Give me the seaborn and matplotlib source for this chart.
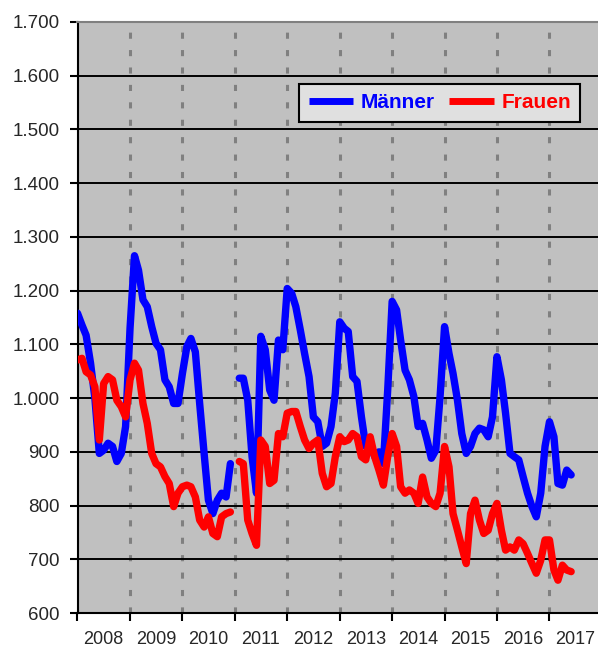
import numpy as np
import pandas as pd
import matplotlib
matplotlib.use("Agg")
import matplotlib.pyplot as plt
import matplotlib.dates as mdates
from matplotlib.ticker import FuncFormatter, MultipleLocator
from matplotlib.lines import Line2D
import seaborn as sns

# ============================
# Daten (monatlich, Jan 2008 - Jun 2017), Lücke im Jan 2011
# ============================
monate = pd.date_range("2008-01-01", periods=114, freq="MS")

maenner = [
    1158, 1136, 1117, 1065, 1000, 897, 903, 916, 910, 882, 897, 947,      # 2008
    1130, 1265, 1238, 1183, 1170, 1133, 1102, 1090, 1034, 1021, 990, 990, # 2009
    1046, 1096, 1111, 1086, 990, 897, 810, 785, 810, 823, 816, 878,       # 2010
    np.nan, 1037, 1037, 996, 891, 823, 1115, 1090, 1015, 996, 1108, 1090, # 2011
    1204, 1195, 1170, 1127, 1083, 1040, 965, 956, 910, 916, 947, 1009,    # 2012
    1142, 1130, 1124, 1040, 1031, 965, 910, 916, 891, 900, 878, 1015,     # 2013
    1180, 1164, 1108, 1052, 1034, 1003, 947, 953, 922, 888, 903, 1003,    # 2014
    1133, 1083, 1046, 996, 934, 897, 910, 934, 944, 941, 928, 965,        # 2015
    1077, 1034, 972, 897, 891, 885, 854, 823, 798, 779, 823, 910,         # 2016
    956, 928, 841, 838, 866, 857,                                         # 2017
]

frauen = [
    1071, 1074, 1049, 1043, 1021, 922, 1027, 1040, 1034, 996, 984, 965,   # 2008
    1034, 1065, 1052, 990, 953, 897, 878, 872, 854, 841, 798, 823,        # 2009
    835, 838, 835, 816, 773, 760, 779, 748, 742, 779, 785, 788,           # 2010
    np.nan, 882, 878, 773, 748, 726, 922, 910, 841, 847, 934, 928,        # 2011
    972, 975, 975, 947, 922, 906, 916, 922, 860, 835, 841, 891,           # 2012
    928, 919, 922, 934, 928, 891, 885, 928, 891, 866, 838, 891,           # 2013
    934, 910, 835, 823, 829, 823, 804, 853, 816, 804, 798, 823,           # 2014
    910, 872, 785, 754, 723, 692, 785, 810, 773, 748, 754, 785,           # 2015
    804, 754, 717, 723, 717, 736, 729, 711, 692, 674, 698, 736,           # 2016
    736, 680, 661, 689, 680, 677,                                         # 2017
]

farben = {"Männer": "#0000FF", "Frauen": "#FF0000"}

# long-form Tabelle, Abschnitt trennt die Linie an der Datenlücke
teile = []
for name, werte in [("Männer", maenner), ("Frauen", frauen)]:
    werte = np.array(werte, dtype=float)
    teile.append(pd.DataFrame({
        "Datum": monate,
        "Anzahl": werte,
        "Geschlecht": name,
        "Abschnitt": np.cumsum(np.isnan(werte)),
    }))
df = pd.concat(teile, ignore_index=True).dropna()

# ============================
# Stil
# ============================
sns.set_style("white", rc={
    "axes.facecolor": "#C0C0C0",
    "lines.solid_capstyle": "round",
    "lines.solid_joinstyle": "round",
})
plt.rcParams["font.family"] = ["Liberation Sans", "DejaVu Sans"]

fig = plt.figure(figsize=(5.98, 6.53), dpi=100)
ax = fig.add_axes([77.5 / 598, 40 / 653, (598 - 77.5) / 598, 591 / 653])

sns.lineplot(data=df, x="Datum", y="Anzahl", hue="Geschlecht",
             units="Abschnitt", estimator=None, palette=farben,
             hue_order=["Männer", "Frauen"], linewidth=5.3, legend=False,
             ax=ax, zorder=3)

# Achsen
ax.set_ylim(600, 1700)
ax.set_xlim(pd.Timestamp("2008-01-01"), pd.Timestamp("2017-12-05"))
ax.yaxis.set_major_locator(MultipleLocator(100))
ax.yaxis.set_major_formatter(FuncFormatter(lambda v, p: f"{int(v):,}".replace(",", ".")))

ax.xaxis.set_major_locator(mdates.YearLocator())
ax.xaxis.set_major_formatter(plt.NullFormatter())
ax.xaxis.set_minor_locator(mdates.MonthLocator(bymonth=7))
ax.xaxis.set_minor_formatter(mdates.DateFormatter("%Y"))

ax.set_xlabel("")
ax.set_ylabel("")

ax.tick_params(axis="y", which="major", direction="out", length=6, width=1.5,
               color="black", labelsize=13.5, pad=7, left=True)
ax.tick_params(axis="x", which="major", direction="out", length=6, width=1.5,
               color="black", bottom=True)
ax.tick_params(axis="x", which="minor", length=0, labelsize=13, pad=13)

# Gitter
ax.grid(axis="y", color="black", linewidth=1.4, linestyle="-", zorder=1)
ax.grid(axis="x", which="major", color="#808080", linewidth=2.2,
        linestyle=(0, (2, 3.7)), zorder=1)
ax.set_axisbelow(True)

for s in ["left", "bottom"]:
    ax.spines[s].set_color("black")
    ax.spines[s].set_linewidth(1.5)
ax.spines["top"].set_color("#808080")
ax.spines["top"].set_linewidth(1.5)
ax.spines["right"].set_visible(False)

# Legende
griffe = [Line2D([0], [0], color=farben[n], linewidth=5, solid_capstyle="butt")
          for n in ["Männer", "Frauen"]]
leg = ax.legend(griffe, ["Männer", "Frauen"], loc="center",
                bbox_to_anchor=(0.696, 0.863), ncol=2, frameon=True,
                fancybox=False, framealpha=1, facecolor="#E0E0E0",
                edgecolor="black", handlelength=2.15, handletextpad=0.35,
                columnspacing=0.7, borderpad=0.45,
                prop={"size": 15, "weight": "bold"})
leg.get_frame().set_linewidth(1.5)
for txt, n in zip(leg.get_texts(), ["Männer", "Frauen"]):
    txt.set_color(farben[n])

fig.savefig("out.png", dpi=100)
